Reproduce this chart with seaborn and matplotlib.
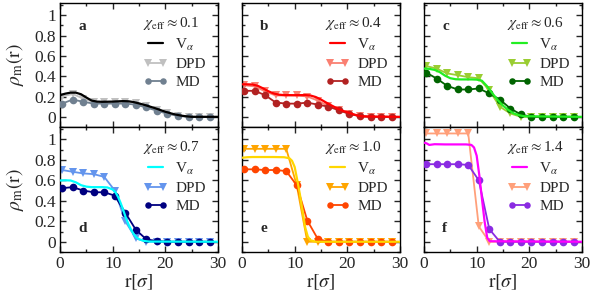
import numpy as np
import matplotlib
matplotlib.use("Agg")
import matplotlib.pyplot as plt
import seaborn as sns
from matplotlib.ticker import MultipleLocator

sns.set_style("ticks")
plt.rcParams["font.family"] = ["Liberation Serif", "DejaVu Serif"]
plt.rcParams["mathtext.fontset"] = "stix"

# ---------------- data ----------------
panel_letters = ["a", "b", "c", "d", "e", "f"]
chi_labels = ["0.1", "0.4", "0.6", "0.7", "1.0", "1.4"]
series_labels = [r"V$_\alpha$", "DPD", "MD"]

# simulation sample positions (markers)
r_pts = [0.4, 2.4, 4.4, 6.4, 8.4, 10.4, 12.4, 14.4, 16.4, 18.4, 20.4, 22.4, 24.4, 26.4, 28.4]

# theory curves V_alpha (r, rho)
va_r = [0, 1, 2, 3, 4, 5, 6, 7, 8, 10, 12, 13, 14, 15, 16, 17, 18, 19, 20, 21, 22, 23, 24, 25, 30]
va_y = [0.213, 0.228, 0.238, 0.238, 0.222, 0.19, 0.16, 0.15, 0.148, 0.15, 0.155, 0.153, 0.145,
        0.132, 0.118, 0.102, 0.086, 0.068, 0.05, 0.035, 0.022, 0.012, 0.005, 0.0, 0.0]
vb_r = [0, 1, 2, 3, 4, 5, 6, 7, 8, 10, 12, 13, 14, 15, 16, 17, 18, 19, 20, 21, 22, 23, 30]
vb_y = [0.32, 0.32, 0.318, 0.305, 0.28, 0.252, 0.23, 0.218, 0.214, 0.213, 0.214, 0.21, 0.195,
        0.17, 0.14, 0.112, 0.085, 0.062, 0.045, 0.028, 0.012, 0.004, 0.0]
vc_r = [0, 1, 2, 3, 4, 5, 6, 7, 8, 9, 10, 11, 12, 13, 14, 15, 16, 17, 18, 19, 30]
vc_y = [0.475, 0.472, 0.462, 0.44, 0.405, 0.38, 0.37, 0.368, 0.368, 0.368, 0.366, 0.355, 0.3,
        0.23, 0.165, 0.11, 0.068, 0.035, 0.017, 0.006, 0.0]
vd_r = [0, 1, 2, 3, 4, 5, 6, 7, 8, 9, 10, 10.5, 11, 11.5, 12, 12.5, 13, 13.5, 14, 14.5, 15, 16, 17, 30]
vd_y = [0.598, 0.6, 0.598, 0.58, 0.552, 0.538, 0.533, 0.533, 0.533, 0.53, 0.51, 0.485, 0.44,
        0.38, 0.31, 0.235, 0.17, 0.117, 0.075, 0.043, 0.025, 0.007, 0.002, 0.0]
ve_r = [0, 1, 2, 4, 6, 8, 9, 9.5, 10, 10.5, 11, 11.5, 12, 12.5, 13, 14, 30]
ve_y = [0.82, 0.825, 0.827, 0.827, 0.827, 0.825, 0.815, 0.79, 0.73, 0.6, 0.46, 0.3, 0.14,
        0.05, 0.015, 0.0, 0.0]
vf_r = [0, 0.5, 1, 2, 4, 6, 8, 9, 9.5, 10, 10.5, 11, 11.5, 12, 12.5, 30]
vf_y = [0.967, 0.96, 0.945, 0.952, 0.95, 0.95, 0.95, 0.945, 0.92, 0.84, 0.65, 0.42, 0.2,
        0.04, 0.005, 0.0]

# DPD simulations
dpd_a = [0.20, 0.225, 0.18, 0.145, 0.145, 0.145, 0.145, 0.14, 0.11, 0.07, 0.035, 0.012, 0.003, 0.0, 0.0]
dpd_b = [0.31, 0.30, 0.25, 0.21, 0.21, 0.21, 0.20, 0.16, 0.105, 0.066, 0.03, 0.01, 0.0, 0.0, 0.0]
dpd_c = [0.50, 0.475, 0.427, 0.41, 0.39, 0.38, 0.26, 0.10, 0.033, 0.0, 0.0, 0.0, 0.0, 0.0, 0.0]
dpd_d = [0.70, 0.683, 0.667, 0.66, 0.633, 0.5, 0.2, 0.033, 0.0, 0.0, 0.0, 0.0, 0.0, 0.0, 0.0]
dpd_e = [0.907, 0.907, 0.907, 0.907, 0.907, 0.55, 0.0, 0.0, 0.0, 0.0, 0.0, 0.0, 0.0, 0.0, 0.0]
dpd_f = [1.057, 1.057, 1.057, 1.057, 1.057, 0.15, 0.0, 0.0, 0.0, 0.0, 0.0, 0.0, 0.0, 0.0, 0.0]

# MD simulations
md_a = [0.13, 0.17, 0.148, 0.13, 0.13, 0.13, 0.13, 0.12, 0.092, 0.06, 0.03, 0.01, 0.0, 0.0, 0.0]
md_b = [0.256, 0.256, 0.213, 0.141, 0.13, 0.13, 0.14, 0.12, 0.1, 0.066, 0.027, 0.007, 0.0, 0.0, 0.0]
md_c = [0.436, 0.377, 0.305, 0.269, 0.269, 0.279, 0.23, 0.17, 0.082, 0.023, 0.0, 0.0, 0.0, 0.0, 0.0]
md_d = [0.523, 0.533, 0.5, 0.483, 0.483, 0.45, 0.283, 0.117, 0.023, 0.007, 0.0, 0.0, 0.0, 0.0, 0.0]
md_e = [0.707, 0.707, 0.70, 0.70, 0.69, 0.55, 0.207, 0.027, 0.0, 0.0, 0.0, 0.0, 0.0, 0.0, 0.0]
md_f = [0.757, 0.757, 0.757, 0.757, 0.75, 0.6, 0.123, 0.0, 0.0, 0.0, 0.0, 0.0, 0.0, 0.0, 0.0]

v_curves = [(va_r, va_y), (vb_r, vb_y), (vc_r, vc_y), (vd_r, vd_y), (ve_r, ve_y), (vf_r, vf_y)]
dpd_all = [dpd_a, dpd_b, dpd_c, dpd_d, dpd_e, dpd_f]
md_all = [md_a, md_b, md_c, md_d, md_e, md_f]

v_colors = ["#000000", "#ff0000", "#22ee22", "#00ffff", "#ffd700", "#ff00ff"]
dpd_colors = ["#c0c0c0", "#fa8072", "#9acd32", "#6495ed", "#ffa500", "#ffa07a"]
md_colors = ["#708090", "#b22222", "#006400", "#000080", "#ff4500", "#8a2be2"]

# ---------------- layout ----------------
W, H = 593, 299
fig = plt.figure(figsize=(W / 100, H / 100), dpi=100)
lefts = [60, 242, 424]
pw = 158
rows = [(3, 127), (127, 252)]

for i in range(6):
    row, col = divmod(i, 3)
    top, bot = rows[row]
    ax = fig.add_axes([lefts[col] / W, 1 - bot / H, pw / W, (bot - top) / H])

    vr, vy = v_curves[i]
    sns.lineplot(x=vr, y=vy, ax=ax, color=v_colors[i], lw=1.6, label=series_labels[0],
                 zorder=4, sort=False)
    sns.lineplot(x=r_pts, y=dpd_all[i], ax=ax, color=dpd_colors[i], lw=1.3, marker="v",
                 markersize=6, markeredgewidth=0, label=series_labels[1], zorder=2, sort=False)
    sns.lineplot(x=r_pts, y=md_all[i], ax=ax, color=md_colors[i], lw=1.3, marker="o",
                 markersize=5.5, markeredgewidth=0, label=series_labels[2], zorder=3, sort=False)

    ax.set_xlim(0, 30)
    ax.set_ylim(-0.1, 1.12)
    ax.xaxis.set_major_locator(MultipleLocator(10))
    ax.xaxis.set_minor_locator(MultipleLocator(5))
    ax.yaxis.set_major_locator(MultipleLocator(0.2))
    ax.yaxis.set_minor_locator(MultipleLocator(0.1))
    ax.set_yticks([0, 0.2, 0.4, 0.6, 0.8, 1.0])
    ax.set_yticklabels(["0", "0.2", "0.4", "0.6", "0.8", "1"])
    ax.tick_params(which="both", direction="in", top=True, right=True, width=1.0,
                   labelsize=12.5, pad=3)
    ax.tick_params(which="major", length=4.5)
    ax.tick_params(which="minor", length=2.5)
    for sp in ax.spines.values():
        sp.set_linewidth(1.0)
        sp.set_color("black")

    if col != 0:
        ax.tick_params(labelleft=False)
        ax.set_ylabel("")
    else:
        ax.set_ylabel(r"$\rho_{\rm m}(\mathrm{r})$", fontsize=14, labelpad=6)
    if row == 0:
        ax.tick_params(labelbottom=False)
        ax.set_xlabel("")
    else:
        ax.set_xlabel(r"$\mathrm{r}[\sigma]$", fontsize=14, labelpad=0)

    handles, labels = ax.get_legend_handles_labels()
    ax.legend(handles, labels, title=r"$\chi_{\rm eff}\approx$" + chi_labels[i],
              loc="upper right", frameon=False, fontsize=11, title_fontsize=11,
              handlelength=1.6, handletextpad=0.5, labelspacing=0.3, borderpad=0.3,
              borderaxespad=0.5, numpoints=2, markerscale=0.85, alignment="left")

    ly = 0.81 if row == 0 else 0.19
    ax.text(0.115, ly, panel_letters[i], transform=ax.transAxes, fontsize=11,
            fontweight="bold", ha="left", va="center")

fig.savefig("out.png", dpi=100)
